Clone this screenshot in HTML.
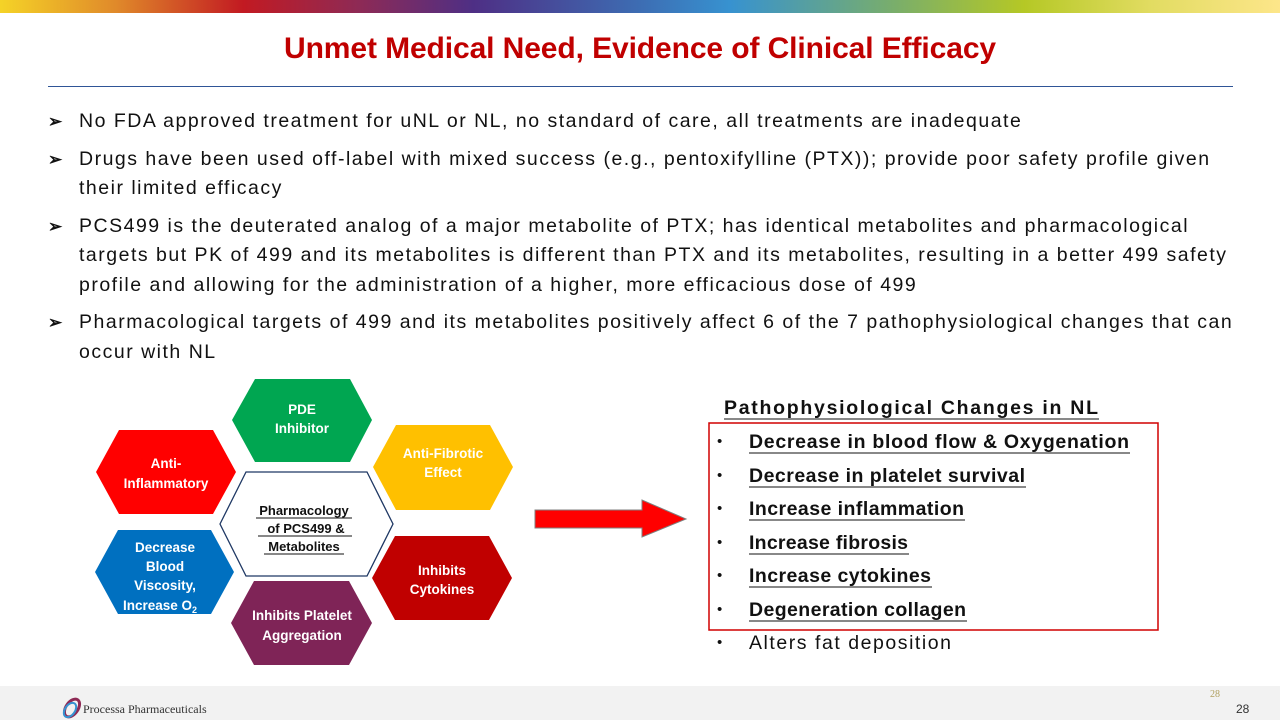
<!DOCTYPE html>
<html><head><meta charset="utf-8"><style>
body{margin:0;width:1280px;height:720px;position:relative;background:#fff;font-family:"Liberation Sans",sans-serif;overflow:hidden}
.bar{position:absolute;left:0;top:0;width:1280px;height:13px;background:linear-gradient(90deg,#f5d327 0%,#e08a2a 9%,#c21a22 19%,#8e2a55 28%,#4e2f85 37%,#3d6db3 50%,#3792d0 57%,#7aae6a 70%,#b5c825 80%,#e2dc62 90%,#fde68a 100%)}
h1{position:absolute;left:0;width:1280px;top:32px;margin:0;text-align:center;color:#c00000;font-size:30px;font-weight:bold;letter-spacing:-0.1px}
.rule{position:absolute;left:48px;width:1185px;top:86px;height:1px;background:#2f5597}
ul.b{position:absolute;left:48px;top:107px;margin:0;padding:0;list-style:none;width:1192px;font-size:19.5px;color:#111;line-height:29.5px}
ul.b li{position:relative;padding-left:31px;margin-bottom:8px;letter-spacing:1.5px}
ul.b li:before{content:"➢";position:absolute;left:0;font-size:17px;font-weight:bold}
.foot{position:absolute;left:0;top:686px;width:1280px;height:34px;background:#f2f2f2}
</style></head><body>
<div class="bar"></div>
<h1>Unmet Medical Need, Evidence of Clinical Efficacy</h1>
<div class="rule"></div>
<ul class="b">
<li>No FDA approved treatment for uNL or NL, no standard of care, all treatments are inadequate</li>
<li>Drugs have been used off-label with mixed success (e.g., pentoxifylline (PTX)); provide poor safety profile given their limited efficacy</li>
<li>PCS499 is the deuterated analog of a major metabolite of PTX; has identical metabolites and pharmacological targets but PK of 499 and its metabolites is different than PTX and its metabolites, resulting in a better 499 safety profile and allowing for the administration of a higher, more efficacious dose of 499</li>
<li>Pharmacological targets of 499 and its metabolites positively affect 6 of the 7 pathophysiological changes that can occur with NL</li>
</ul>
<svg width="1280" height="720" style="position:absolute;left:0;top:0" font-family="Liberation Sans, sans-serif" font-weight="bold">
<g font-size="13.5" fill="#fff" text-anchor="middle">
<polygon points="232,420 255,379 350,379 372,420 350,462 255,462" fill="#00a651"/>
<text x="302" y="414">PDE</text><text x="302" y="433">Inhibitor</text>
<polygon points="96,472 119,430 213,430 236,472 213,514 119,514" fill="#ff0000"/>
<text x="166" y="468">Anti-</text><text x="166" y="488">Inflammatory</text>
<polygon points="373,467 396,425 490,425 513,467 490,510 396,510" fill="#ffc000"/>
<text x="443" y="458">Anti-Fibrotic</text><text x="443" y="477">Effect</text>
<polygon points="95,572 118,530 211,530 234,572 211,614 118,614" fill="#0070c0"/>
<text x="165" y="552">Decrease</text><text x="165" y="571">Blood</text><text x="165" y="590">Viscosity,</text><text x="160" y="610">Increase O<tspan font-size="9" dy="3">2</tspan></text>
<polygon points="372,578 395,536 489,536 512,578 489,620 395,620" fill="#c00000"/>
<text x="442" y="575">Inhibits</text><text x="442" y="594">Cytokines</text>
<polygon points="231,623 254,581 349,581 372,623 349,665 254,665" fill="#7f2457"/>
<text x="302" y="620">Inhibits Platelet</text><text x="302" y="640">Aggregation</text>
<polygon points="220,524 246,472 367,472 393,524 367,576 246,576" fill="#fff" stroke="#1f3864" stroke-width="1.3"/>
<g fill="#111" font-size="13"><text x="304" y="515">Pharmacology</text><text x="306" y="533">of PCS499 &amp;</text><text x="304" y="551">Metabolites</text></g>
<g stroke="#111" stroke-width="1"><line x1="256" y1="518" x2="352" y2="518"/><line x1="258" y1="536" x2="352" y2="536"/><line x1="264" y1="554" x2="344" y2="554"/></g>
</g>
<polygon points="535,510 642,510 642,500 686,519 642,537 642,528 535,528" fill="#ff0000" stroke="#7f7f7f" stroke-width="1"/>
<rect x="709" y="423" width="449" height="207" fill="none" stroke="#d00000" stroke-width="1.5"/>
<g fill="#111" font-size="19.5">
<text x="724" y="414" textLength="374" lengthAdjust="spacing">Pathophysiological Changes in NL</text>
<line x1="724" y1="419" x2="1099" y2="419" stroke="#111"/>
<g font-weight="normal" font-size="15"><text x="717" y="446">•</text><text x="717" y="480">•</text><text x="717" y="513">•</text><text x="717" y="547">•</text><text x="717" y="580">•</text><text x="717" y="614">•</text><text x="717" y="647">•</text></g>
<text x="749" y="448" textLength="380" lengthAdjust="spacing">Decrease in blood flow &amp; Oxygenation</text>
<text x="749" y="482" textLength="276" lengthAdjust="spacing">Decrease in platelet survival</text>
<text x="749" y="515" textLength="215" lengthAdjust="spacing">Increase inflammation</text>
<text x="749" y="549" textLength="159" lengthAdjust="spacing">Increase fibrosis</text>
<text x="749" y="582" textLength="182" lengthAdjust="spacing">Increase cytokines</text>
<text x="749" y="616" textLength="217" lengthAdjust="spacing">Degeneration collagen</text>
<text x="749" y="649" font-weight="normal" textLength="202" lengthAdjust="spacing">Alters fat deposition</text>
<g stroke="#111" stroke-width="1"><line x1="749" y1="453" x2="1130" y2="453"/><line x1="749" y1="487" x2="1026" y2="487"/><line x1="749" y1="520" x2="965" y2="520"/><line x1="749" y1="554" x2="909" y2="554"/><line x1="749" y1="587" x2="932" y2="587"/><line x1="749" y1="621" x2="967" y2="621"/></g>
</g>
</svg>
<div class="foot"></div>
<svg width="30" height="24" style="position:absolute;left:58px;top:696px"><ellipse cx="14" cy="12" rx="6" ry="10" fill="none" stroke="#8e2a55" stroke-width="3" transform="rotate(35 14 12)"/><ellipse cx="12" cy="14" rx="5" ry="8" fill="none" stroke="#3792d0" stroke-width="2" transform="rotate(35 12 14)"/></svg>
<div style="position:absolute;left:83px;top:702px;font-family:'Liberation Serif',serif;font-size:12px;color:#333">Processa Pharmaceuticals</div>
<div style="position:absolute;left:1210px;top:689px;font-family:'Liberation Serif',serif;font-size:10px;color:#b0a060">28</div>
<div style="position:absolute;left:1236px;top:702px;font-size:12px;color:#333">28</div>
</body></html>
